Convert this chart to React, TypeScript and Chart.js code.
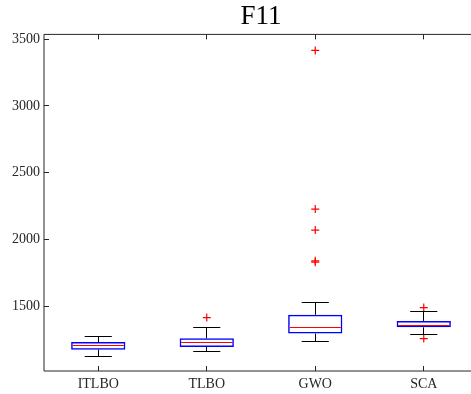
import React, { useEffect, useRef } from 'react';
import { Chart, registerables } from 'chart.js';

Chart.register(...registerables);

const titleText = 'F11';
const categories = ['ITLBO', 'TLBO', 'GWO', 'SCA'];
const lowerWhisker = [1127, 1162, 1237, 1292];
const q1 = [1175, 1195, 1295, 1342];
const median = [1205, 1225, 1342, 1355];
const q3 = [1232, 1260, 1436, 1390];
const upperWhisker = [1273, 1342, 1530, 1457];
const outliers: number[][] = [[], [1415], [3415, 2227, 2070, 1840, 1830], [1490, 1258]];
const yTicks = [1500, 2000, 2500, 3000, 3500];
const yMin = 1015;
const yMax = 3535;

const FONT = 'Liberation Serif, Times New Roman, serif';
const AXIS_COLOR = '#262626';

const crisp = (v: number) => Math.round(v - 0.5) + 0.5;

const boxPartsPlugin = {
  id: 'boxParts',
  afterDatasetsDraw(chart: any) {
    const { ctx, scales } = chart;
    const x = scales.x;
    const y = scales.y;
    ctx.save();
    ctx.lineWidth = 1;
    categories.forEach((_, i) => {
      const c = i + 1;
      const cx = crisp(x.getPixelForValue(c));
      const boxL = x.getPixelForValue(c - 0.25);
      const boxR = x.getPixelForValue(c + 0.25);
      const capL = x.getPixelForValue(c - 0.125);
      const capR = x.getPixelForValue(c + 0.125);
      ctx.strokeStyle = '#000000';
      ctx.beginPath();
      ctx.moveTo(cx, y.getPixelForValue(q3[i]));
      ctx.lineTo(cx, y.getPixelForValue(upperWhisker[i]));
      ctx.moveTo(cx, y.getPixelForValue(q1[i]));
      ctx.lineTo(cx, y.getPixelForValue(lowerWhisker[i]));
      const yu = crisp(y.getPixelForValue(upperWhisker[i]));
      const yl = crisp(y.getPixelForValue(lowerWhisker[i]));
      ctx.moveTo(capL, yu);
      ctx.lineTo(capR, yu);
      ctx.moveTo(capL, yl);
      ctx.lineTo(capR, yl);
      ctx.stroke();
      ctx.strokeStyle = '#ff0000';
      const ym = crisp(y.getPixelForValue(median[i]));
      ctx.beginPath();
      ctx.moveTo(boxL + 1.5, ym);
      ctx.lineTo(boxR - 1.5, ym);
      ctx.stroke();
    });
    ctx.restore();
  },
  afterDraw(chart: any) {
    const { ctx, chartArea, scales } = chart;
    const { left, right, top, bottom } = chartArea;
    ctx.save();
    ctx.strokeStyle = AXIS_COLOR;
    ctx.lineWidth = 1;
    ctx.beginPath();
    ctx.moveTo(right, top);
    ctx.lineTo(left, top);
    ctx.lineTo(left, bottom);
    ctx.lineTo(right, bottom);
    ctx.stroke();
    const tl = 5;
    ctx.beginPath();
    scales.y.ticks.forEach((t: any) => {
      const py = crisp(scales.y.getPixelForValue(t.value));
      ctx.moveTo(left, py);
      ctx.lineTo(left + tl, py);
    });
    scales.x.ticks.forEach((t: any) => {
      const px = crisp(scales.x.getPixelForValue(t.value));
      ctx.moveTo(px, bottom);
      ctx.lineTo(px, bottom - tl);
      ctx.moveTo(px, top);
      ctx.lineTo(px, top + tl);
    });
    ctx.stroke();
    ctx.restore();
  },
};

export default function App() {
  const canvasRef = useRef<HTMLCanvasElement | null>(null);

  useEffect(() => {
    if (!canvasRef.current) return;
    const boxData = categories.map((_, i) => ({ x: i + 1, y: [q1[i], q3[i]] }));
    const outlierData: { x: number; y: number }[] = [];
    outliers.forEach((arr, i) => arr.forEach((v) => outlierData.push({ x: i + 1, y: v })));

    const chart = new Chart(canvasRef.current, {
      type: 'bar',
      data: {
        datasets: [
          {
            type: 'bar',
            label: 'box',
            data: boxData as any,
            backgroundColor: 'rgba(0,0,0,0)',
            borderColor: '#0000ff',
            borderWidth: 1.5,
            borderSkipped: false,
            barPercentage: 0.5,
            categoryPercentage: 1,
            grouped: false,
          } as any,
          {
            type: 'scatter',
            label: 'outliers',
            data: outlierData,
            pointStyle: 'cross',
            radius: 4,
            borderColor: '#ff0000',
            backgroundColor: '#ff0000',
            borderWidth: 1.2,
            showLine: false,
          } as any,
        ],
      },
      options: {
        animation: false,
        responsive: false,
        devicePixelRatio: 1,
        layout: { padding: 0, autoPadding: false },
        plugins: {
          legend: { display: false },
          tooltip: { enabled: false },
          title: {
            display: true,
            text: titleText,
            fullSize: false,
            color: '#000000',
            font: { family: FONT, size: 27, weight: 'normal' as any },
            padding: { top: 1, bottom: 1 },
          },
        },
        scales: {
          x: {
            type: 'linear',
            offset: false,
            min: 0.5,
            max: 4.5,
            grid: { display: false, drawTicks: false, offset: false },
            border: { display: false },
            ticks: {
              autoSkip: false,
              maxRotation: 0,
              padding: 5,
              color: AXIS_COLOR,
              font: { family: FONT, size: 14 },
              callback: (v: any) => categories[Number(v) - 1] ?? '',
            },
            afterBuildTicks: (s: any) => {
              s.ticks = categories.map((_, i) => ({ value: i + 1 }));
            },
            afterFit: (s: any) => {
              s.height = 23;
              s.paddingLeft = 0;
              s.paddingRight = 0;
            },
          },
          y: {
            type: 'linear',
            min: yMin,
            max: yMax,
            grid: { display: false, drawTicks: false },
            border: { display: false },
            ticks: {
              padding: 4,
              color: AXIS_COLOR,
              font: { family: FONT, size: 14 },
              callback: (v: any) => String(v),
            },
            afterBuildTicks: (s: any) => {
              s.ticks = yTicks.map((v) => ({ value: v }));
            },
            afterFit: (s: any) => {
              s.width = 44;
              s.paddingTop = 0;
              s.paddingBottom = 0;
            },
          },
        },
      },
      plugins: [boxPartsPlugin],
    });
    return () => chart.destroy();
  }, []);

  return (
    <div
      style={{
        position: 'fixed',
        left: 0,
        top: 0,
        width: 471,
        height: 394,
        overflow: 'hidden',
        background: '#ffffff',
      }}
    >
      <canvas ref={canvasRef} width={478} height={394} style={{ display: 'block' }} />
    </div>
  );
}
